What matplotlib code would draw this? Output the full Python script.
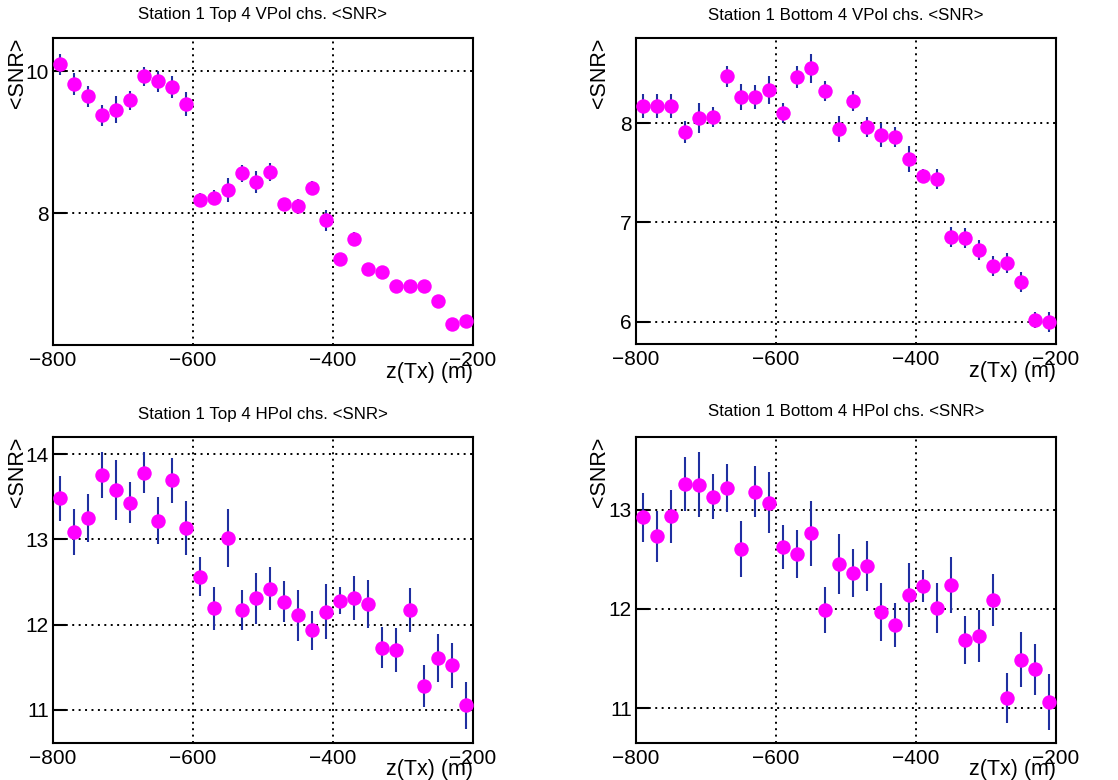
import matplotlib
matplotlib.use("Agg")
import matplotlib.pyplot as plt

plt.rcParams['font.family'] = ['Liberation Sans', 'DejaVu Sans']

z_tx = [-790, -770, -750, -730, -710, -690, -670, -650, -630, -610,
        -590, -570, -550, -530, -510, -490, -470, -450, -430, -410,
        -390, -370, -350, -330, -310, -290, -270, -250, -230, -210]

top_vpol = [10.10, 9.82, 9.65, 9.38, 9.46, 9.59, 9.93, 9.86, 9.78, 9.54,
            8.19, 8.22, 8.33, 8.56, 8.44, 8.58, 8.13, 8.10, 8.35, 7.90,
            7.36, 7.63, 7.21, 7.17, 6.97, 6.97, 6.97, 6.76, 6.43, 6.48]
top_vpol_err = [0.15, 0.15, 0.15, 0.15, 0.19, 0.13, 0.13, 0.15, 0.15, 0.17,
                0.10, 0.10, 0.17, 0.12, 0.16, 0.12, 0.09, 0.10, 0.10, 0.15,
                0.08, 0.10, 0.09, 0.08, 0.08, 0.08, 0.08, 0.09, 0.08, 0.09]

bot_vpol = [8.17, 8.17, 8.17, 7.91, 8.05, 8.06, 8.47, 8.26, 8.26, 8.33,
            8.10, 8.46, 8.55, 8.32, 7.94, 8.22, 7.96, 7.88, 7.86, 7.64,
            7.47, 7.44, 6.85, 6.84, 6.72, 6.56, 6.59, 6.40, 6.02, 6.00]
bot_vpol_err = [0.12, 0.12, 0.12, 0.11, 0.15, 0.10, 0.11, 0.13, 0.12, 0.14,
                0.10, 0.11, 0.15, 0.10, 0.13, 0.10, 0.10, 0.12, 0.10, 0.13,
                0.07, 0.10, 0.10, 0.10, 0.10, 0.10, 0.10, 0.10, 0.08, 0.10]

top_hpol = [13.48, 13.09, 13.25, 13.75, 13.58, 13.43, 13.78, 13.22, 13.69, 13.13,
            12.56, 12.19, 13.02, 12.17, 12.31, 12.42, 12.27, 12.11, 11.93, 12.15,
            12.28, 12.31, 12.24, 11.73, 11.70, 12.17, 11.28, 11.61, 11.52, 11.05]
top_hpol_err = [0.26, 0.27, 0.28, 0.27, 0.35, 0.24, 0.24, 0.28, 0.26, 0.32,
                0.23, 0.25, 0.34, 0.24, 0.30, 0.25, 0.24, 0.30, 0.23, 0.32,
                0.16, 0.26, 0.28, 0.24, 0.26, 0.26, 0.25, 0.28, 0.26, 0.28]

bot_hpol = [12.92, 12.73, 12.93, 13.26, 13.25, 13.13, 13.22, 12.60, 13.18, 13.07,
            12.62, 12.55, 12.76, 11.99, 12.45, 12.36, 12.43, 11.97, 11.84, 12.14,
            12.23, 12.01, 12.24, 11.69, 11.73, 12.09, 11.10, 11.49, 11.39, 11.06]
bot_hpol_err = [0.25, 0.26, 0.27, 0.27, 0.33, 0.23, 0.24, 0.28, 0.26, 0.31,
                0.22, 0.24, 0.33, 0.23, 0.30, 0.24, 0.25, 0.29, 0.22, 0.32,
                0.16, 0.25, 0.28, 0.24, 0.26, 0.26, 0.25, 0.28, 0.26, 0.28]

titles = ["Station 1 Top 4 VPol chs. <SNR>",
          "Station 1 Bottom 4 VPol chs. <SNR>",
          "Station 1 Top 4 HPol chs. <SNR>",
          "Station 1 Bottom 4 HPol chs. <SNR>"]
series = [top_vpol, bot_vpol, top_hpol, bot_hpol]
errors = [top_vpol_err, bot_vpol_err, top_hpol_err, bot_hpol_err]
ylims = [(6.14, 10.47), (5.775, 8.857), (10.61, 14.20), (10.65, 13.73)]
yticks = [[8, 10], [6, 7, 8], [11, 12, 13, 14], [11, 12, 13]]
xticks = [-800, -600, -400, -200]
xlabel = "z(Tx) (m)"
ylabel = "<SNR>"

W, H = 1118, 780
fig = plt.figure(figsize=(W / 100, H / 100), dpi=100)

# axes boxes in pixels: (left, top, right, bottom)
boxes = [(53, 38, 473, 345), (636, 38, 1056, 344),
         (53, 437, 473, 743), (636, 437, 1056, 743)]
title_y = [15, 15, 414, 412]

marker_col = '#ff00ff'
err_col = '#1f2fa0'

for i in range(4):
    l, t, r, b = boxes[i]
    ax = fig.add_axes([l / W, 1 - b / H, (r - l) / W, (b - t) / H])
    ax.errorbar(z_tx, series[i], yerr=errors[i], fmt='o', color=marker_col,
                markersize=10.4, markeredgewidth=0, ecolor=err_col,
                elinewidth=1.5, capsize=0, zorder=3)
    ax.set_xlim(-800, -200)
    ax.set_ylim(*ylims[i])
    ax.set_xticks(xticks)
    ax.set_xticklabels(["\u2212800", "\u2212600", "\u2212400", "\u2212200"])
    ax.set_yticks(yticks[i])
    ax.grid(True, color='black', linestyle=(0, (1, 2.3)), linewidth=1.4)
    ax.set_axisbelow(True)
    for sp in ax.spines.values():
        sp.set_linewidth(1.5)
        sp.set_color('black')
    ax.tick_params(axis='y', direction='in', length=9.5, width=1.5,
                   labelsize=15, pad=3)
    ax.tick_params(axis='x', direction='in', length=0, labelsize=15, pad=4)
    # axis titles, ROOT-style aligned to the end of the axes
    fig.text((r) / W, 1 - (b + 27) / H, xlabel, ha='right', va='center',
             fontsize=15.5)
    fig.text((l - 36) / W, 1 - t / H, ylabel, ha='center', va='top',
             rotation=90, fontsize=15.5)
    fig.text((l + r) / 2 / W, 1 - title_y[i] / H, titles[i], ha='center',
             va='center', fontsize=12.2)

fig.savefig("out.png", dpi=100)
